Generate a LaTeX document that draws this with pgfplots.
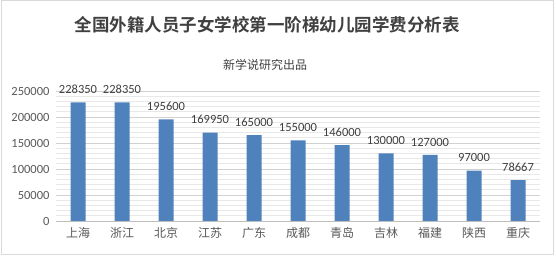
\documentclass[border=0pt]{standalone}
\usepackage{pgfplots}
\pgfplotsset{compat=1.18}
\usepackage{fontspec}
\setmainfont{Carlito}
\newfontfamily\cjk{Noto Sans CJK SC}[BoldFont={Noto Sans CJK SC Bold}]
\definecolor{barblue}{RGB}{79,129,189}
\definecolor{txtgray}{RGB}{89,89,89}
\definecolor{lblgray}{RGB}{64,64,64}
\definecolor{framegray}{RGB}{217,217,217}
\begin{document}
\begin{tikzpicture}
\path[use as bounding box] (0,0) rectangle (556pt,256pt);
\draw[framegray, line width=1pt] (1pt,1.5pt) rectangle (553pt,255pt);
\node[text=lblgray, font=\cjk\bfseries\fontsize{17.5pt}{20pt}\selectfont] at (267pt,231pt) {全国外籍人员子女学校第一阶梯幼儿园学费分析表};
\node[text=lblgray, font=\cjk\fontsize{12pt}{14pt}\selectfont] at (265pt,191pt) {新学说研究出品};
\begin{axis}[
  at={(56pt,35pt)}, anchor=south west,
  width=484pt, height=130pt, scale only axis,
  ymin=0, ymax=250000,
  ytick={0,50000,100000,150000,200000,250000},
  minor ytick={10000,20000,30000,40000,60000,70000,80000,90000,110000,120000,130000,140000,160000,170000,180000,190000,210000,220000,230000,240000},
  xmin=-0.5, xmax=10.5,
  xtick={0,...,10},
  xticklabels={上海,浙江,北京,江苏,广东,成都,青岛,吉林,福建,陕西,重庆},
  xticklabel style={font=\cjk\fontsize{12pt}{14pt}\selectfont, text=txtgray, yshift=-3pt},
  yticklabel style={font=\fontsize{12.5pt}{14pt}\selectfont, text=txtgray, xshift=-3pt},
  /pgf/number format/assume math mode=true,
  /pgf/number format/fixed, /pgf/number format/precision=0, /pgf/number format/1000 sep={},
  scaled y ticks=false,
  ymajorgrids, yminorgrids,
  major grid style={draw=black!18, line width=0.8pt},
  minor grid style={draw=black!9, line width=0.6pt},
  axis x line*=bottom,
  axis y line*=left,
  x axis line style={draw=black!25, line width=0.8pt, -},
  y axis line style={draw=none},
  major tick length=0pt, minor tick length=0pt,
  tick style={draw=none},
  ybar, bar width=15pt,
  nodes near coords,
  every node near coord/.append style={font=\fontsize{12.5pt}{14pt}\selectfont, text=lblgray, yshift=5pt},
  clip=false,
]
\addplot[fill=barblue, draw=none] coordinates {
(0,228350) (1,228350) (2,195600) (3,169950) (4,165000) (5,155000)
(6,146000) (7,130000) (8,127000) (9,97000) (10,78667)};
\end{axis}
\end{tikzpicture}
\end{document}
